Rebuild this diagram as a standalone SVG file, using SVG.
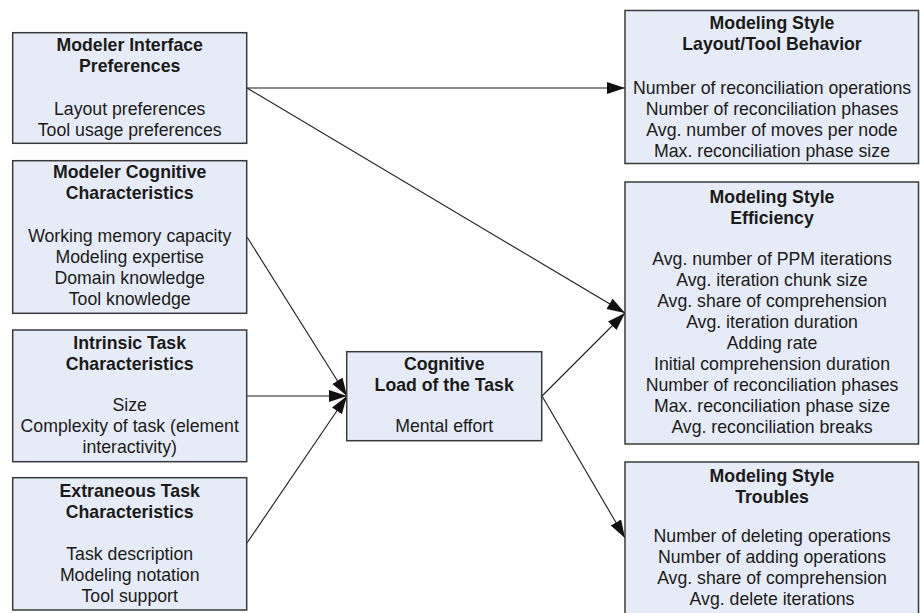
<svg xmlns="http://www.w3.org/2000/svg" width="920" height="613" viewBox="0 0 920 613">
<style>
.box{fill:#e6ecf7;stroke:#3a3a3a;stroke-width:1.5}
text{font-family:"Liberation Sans",Arial,sans-serif;font-size:17.7px;fill:#1a1a1a;text-anchor:middle}
.t{font-weight:bold}
.c line{stroke:#1a1a1a;stroke-width:1.1;marker-end:url(#ah)}
</style>
<defs>
<marker id="ah" markerUnits="userSpaceOnUse" markerWidth="19" markerHeight="13" refX="18" refY="6" orient="auto">
<path d="M0,0 L18,6 L0,12 z" fill="#111"/>
</marker>
</defs>
<rect width="920" height="613" fill="#fff"/>
<g class="c" id="connectors">
<line x1="247" y1="88" x2="625" y2="88"/>
<line x1="247" y1="88" x2="625" y2="313"/>
<line x1="247" y1="237" x2="347" y2="396"/>
<line x1="247" y1="396" x2="347" y2="396"/>
<line x1="247" y1="543" x2="347" y2="396"/>
<line x1="542" y1="396" x2="625" y2="313"/>
<line x1="542" y1="396" x2="625" y2="538"/>
</g>
<g id="n-interface">
<rect class="box" x="12.7" y="32.7" width="234" height="110.6"/>
<text class="t" x="129.7" y="51">Modeler Interface</text>
<text class="t" x="129.7" y="72">Preferences</text>
<text x="129.7" y="115">Layout preferences</text>
<text x="129.7" y="136">Tool usage preferences</text>
</g>
<g id="n-cognitive">
<rect class="box" x="12.7" y="160.7" width="234" height="152.6"/>
<text class="t" x="129.7" y="178.3">Modeler Cognitive</text>
<text class="t" x="129.7" y="199.3">Characteristics</text>
<text x="129.7" y="241.7">Working memory capacity</text>
<text x="129.7" y="262.7">Modeling expertise</text>
<text x="129.7" y="283.7">Domain knowledge</text>
<text x="129.7" y="304.7">Tool knowledge</text>
</g>
<g id="n-intrinsic">
<rect class="box" x="12.7" y="330" width="234" height="131.7"/>
<text class="t" x="129.7" y="349.3">Intrinsic Task</text>
<text class="t" x="129.7" y="370.3">Characteristics</text>
<text x="129.7" y="410.7">Size</text>
<text x="129.7" y="431.7">Complexity of task (element</text>
<text x="129.7" y="452.7">interactivity)</text>
</g>
<g id="n-extraneous">
<rect class="box" x="12.7" y="477.7" width="234" height="132.3"/>
<text class="t" x="129.7" y="496.7">Extraneous Task</text>
<text class="t" x="129.7" y="517.7">Characteristics</text>
<text x="129.7" y="560">Task description</text>
<text x="129.7" y="581">Modeling notation</text>
<text x="129.7" y="602">Tool support</text>
</g>
<g id="n-load">
<rect class="box" x="346.7" y="351.7" width="195" height="89"/>
<text class="t" x="444.2" y="370">Cognitive</text>
<text class="t" x="444.2" y="391">Load of the Task</text>
<text x="444.2" y="432">Mental effort</text>
</g>
<g id="n-layout">
<rect class="box" x="625" y="10.5" width="293.5" height="153"/>
<text class="t" x="772" y="29">Modeling Style</text>
<text class="t" x="772" y="50">Layout/Tool Behavior</text>
<text x="772" y="94">Number of reconciliation operations</text>
<text x="772" y="115">Number of reconciliation phases</text>
<text x="772" y="136">Avg. number of moves per node</text>
<text x="772" y="157">Max. reconciliation phase size</text>
</g>
<g id="n-efficiency">
<rect class="box" x="625" y="182" width="293.5" height="262"/>
<text class="t" x="772" y="203">Modeling Style</text>
<text class="t" x="772" y="224">Efficiency</text>
<text x="772" y="265">Avg. number of PPM iterations</text>
<text x="772" y="286">Avg. iteration chunk size</text>
<text x="772" y="307">Avg. share of comprehension</text>
<text x="772" y="328">Avg. iteration duration</text>
<text x="772" y="349">Adding rate</text>
<text x="772" y="370">Initial comprehension duration</text>
<text x="772" y="391">Number of reconciliation phases</text>
<text x="772" y="412">Max. reconciliation phase size</text>
<text x="772" y="433">Avg. reconciliation breaks</text>
</g>
<g id="n-troubles">
<rect class="box" x="625" y="462" width="293.5" height="170"/>
<text class="t" x="772" y="482">Modeling Style</text>
<text class="t" x="772" y="503">Troubles</text>
<text x="772" y="542">Number of deleting operations</text>
<text x="772" y="563">Number of adding operations</text>
<text x="772" y="584">Avg. share of comprehension</text>
<text x="772" y="605">Avg. delete iterations</text>
</g>
</svg>
